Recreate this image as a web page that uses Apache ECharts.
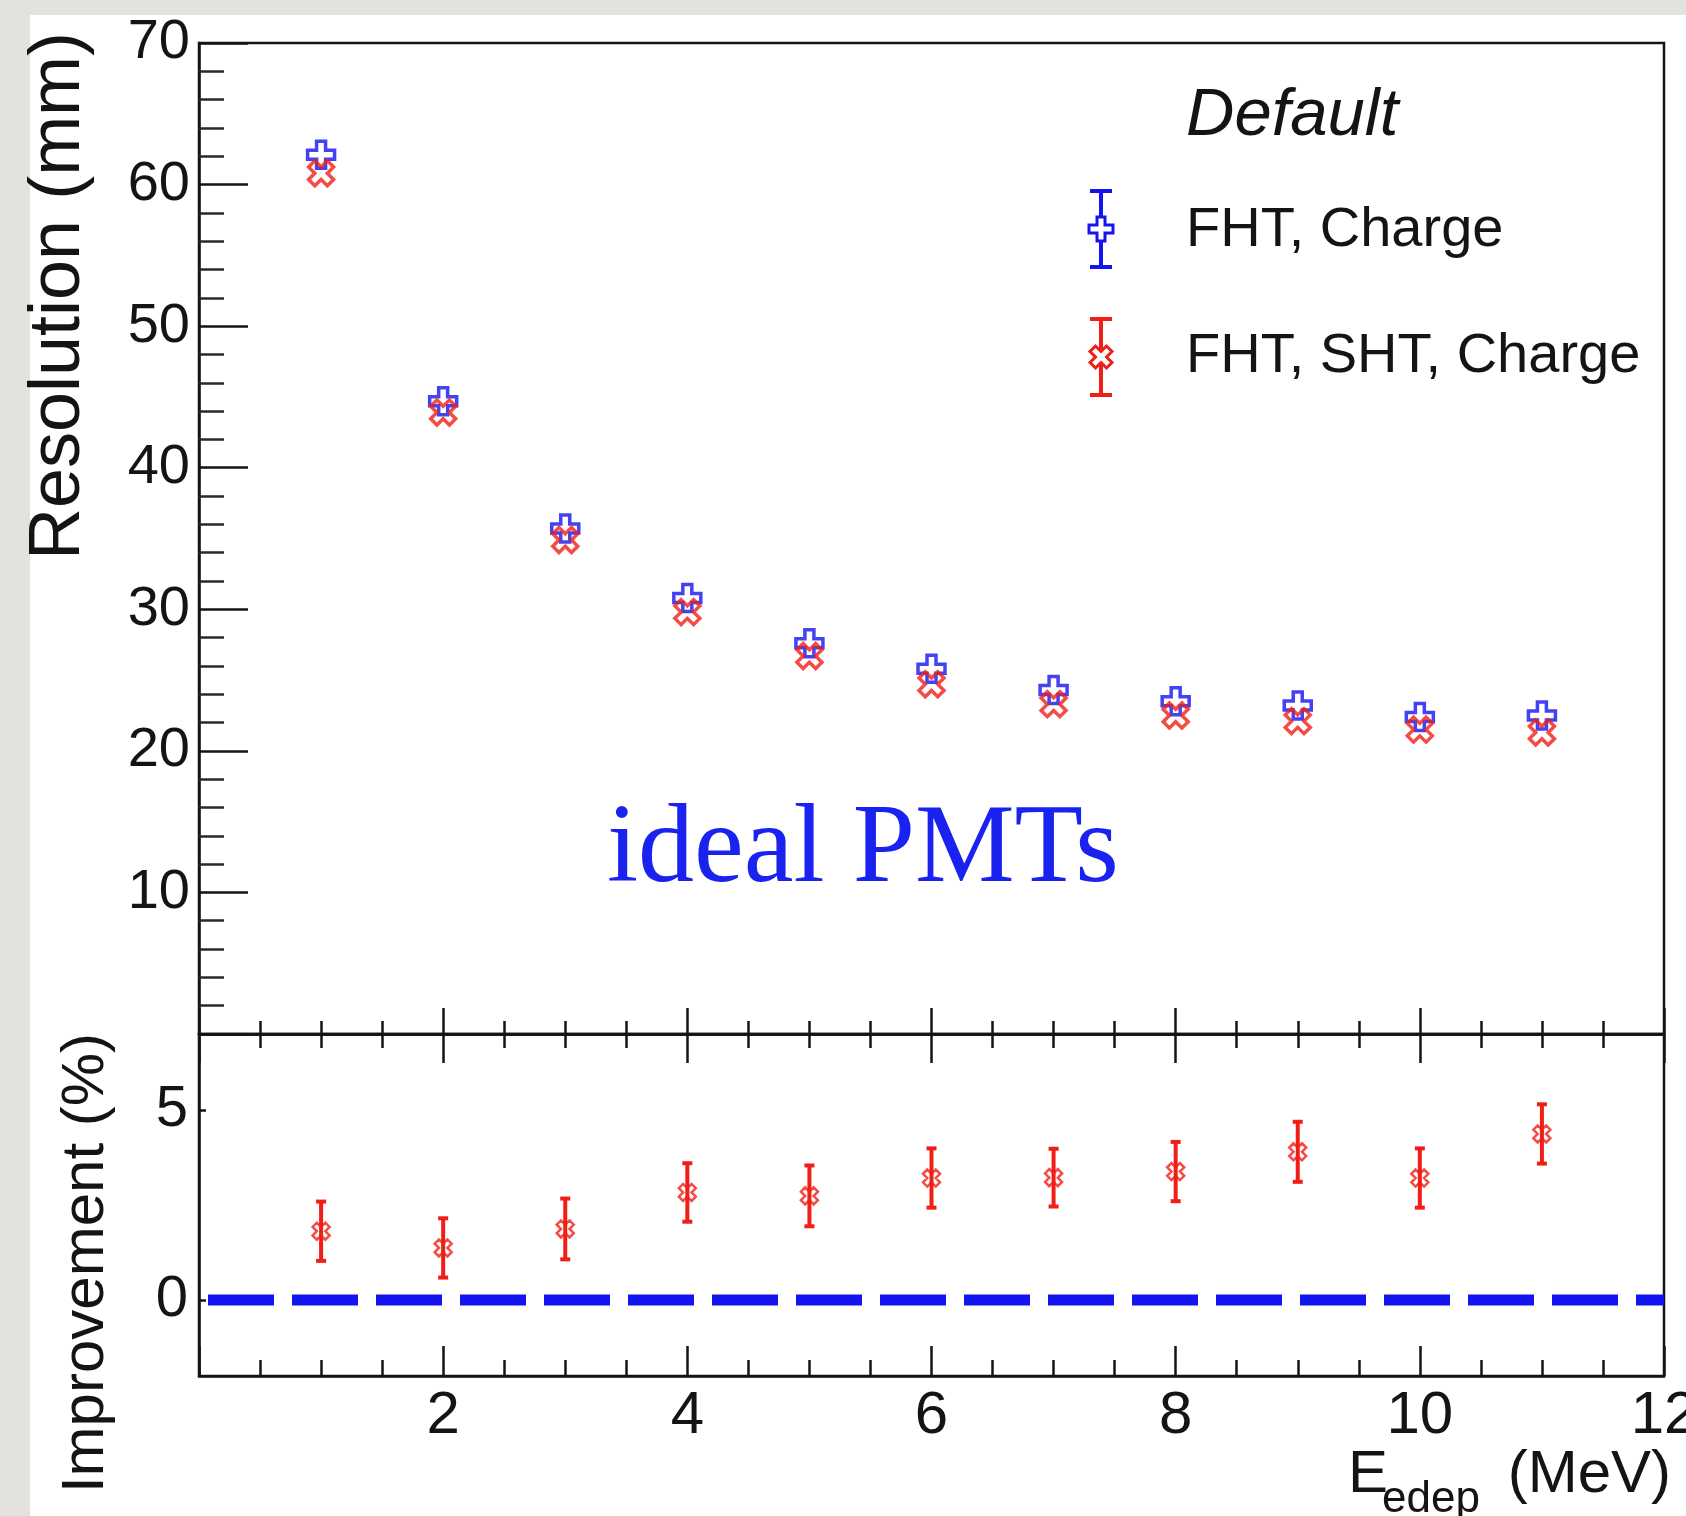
<!DOCTYPE html>
<html>
<head>
<meta charset="utf-8">
<script src="https://cdn.jsdelivr.net/npm/echarts@6/dist/echarts.min.js"></script>
<style>
  html, body { margin: 0; padding: 0; background: #e4e2de; }
  #chart { width: 1686px; height: 1516px; }
</style>
</head>
<body>
<div id="chart"></div>
<script>
// Deposited energy bins (MeV)
const energy = [1, 2, 3, 4, 5, 6, 7, 8, 9, 10, 11];
// Vertex resolution (mm) for the two reconstruction configurations
const resFhtCharge    = [62.1, 44.7, 35.7, 30.8, 27.6, 25.8, 24.3, 23.5, 23.2, 22.4, 22.5];
const resFhtShtCharge = [60.8, 43.9, 34.9, 29.8, 26.7, 24.7, 23.3, 22.5, 22.1, 21.5, 21.3];
// Relative improvement (%) of FHT+SHT+Charge over FHT+Charge, with uncertainties
const improvement    = [1.81, 1.37, 1.87, 2.83, 2.74, 3.21, 3.22, 3.38, 3.90, 3.21, 4.37];
const improvementErr = [0.78, 0.78, 0.80, 0.77, 0.80, 0.78, 0.76, 0.78, 0.79, 0.78, 0.78];
// Reference line at zero improvement
const zeroLineX = [0, 12];
const zeroLineY = [0, 0];
// Tick labels
const energyLabels = [2, 4, 6, 8, 10, 12];
const resolutionLabels = [10, 20, 30, 40, 50, 60, 70];
const improvementLabels = [0, 5];

const BLUE = '#1414f0';
const RED = '#f01e16';
const INK = '#141414';
const SANS = '"Liberation Sans", Arial, Helvetica, sans-serif';

// ROOT-style marker outlines: open cross and open "four diamonds X"
const OPEN_CROSS = 'path://M1,0L2,0L2,1L3,1L3,2L2,2L2,3L1,3L1,2L0,2L0,1L1,1Z';
const OPEN_X = 'path://M0,1L1,2L2,1L1,0L2,-1L1,-2L0,-1L-1,-2L-2,-1L-1,0L-2,1L-1,2Z';

function crossPoints(s) {
  const h = s / 2, a = s / 6;
  return [[-a,-h],[a,-h],[a,-a],[h,-a],[h,a],[a,a],[a,h],[-a,h],[-a,a],[-h,a],[-h,-a],[-a,-a]];
}
function xPoints(s) {
  const q = s / 4;
  return [[0,q],[q,2*q],[2*q,q],[q,0],[2*q,-q],[q,-2*q],[0,-q],[-q,-2*q],[-2*q,-q],[-q,0],[-2*q,q],[-q,2*q]];
}
function legendSymbol(cx, cy, color, pts) {
  const st = { stroke: color, lineWidth: 4 };
  const hb = 38, cap = 11;
  return {
    type: 'group', x: cx, y: cy, z: 50,
    children: [
      { type: 'line', shape: { x1: 0, y1: -hb, x2: 0, y2: hb }, style: st },
      { type: 'line', shape: { x1: -cap, y1: -hb, x2: cap, y2: -hb }, style: st },
      { type: 'line', shape: { x1: -cap, y1: hb, x2: cap, y2: hb }, style: st },
      { type: 'polygon', shape: { points: pts }, style: { fill: '#fff', stroke: color, lineWidth: 3 } }
    ]
  };
}

const chart = echarts.init(document.getElementById('chart'), null, { renderer: 'canvas' });

const axisLineStyle = { show: true, onZero: false, lineStyle: { color: INK, width: 2.5 } };

const option = {
  animation: false,
  backgroundColor: '#e4e2de',
  grid: [
    { left: 199, right: 22, top: 43, height: 991, show: true, borderColor: INK, borderWidth: 2.5, backgroundColor: 'transparent', containLabel: false, outerBoundsMode: 'none' },
    { left: 199, right: 22, top: 1034, height: 342, show: true, borderColor: INK, borderWidth: 2.5, backgroundColor: 'transparent', containLabel: false, outerBoundsMode: 'none' }
  ],
  xAxis: [
    {
      type: 'value', gridIndex: 0, min: 0, max: 12, interval: 2, position: 'bottom',
      axisLine: axisLineStyle,
      axisTick: { show: true, inside: true, length: 26, lineStyle: { color: INK, width: 2.5 } },
      minorTick: { show: true, splitNumber: 4, length: 13, lineStyle: { color: INK, width: 2.5 } },
      axisLabel: { show: false },
      splitLine: { show: false }
    },
    {
      type: 'value', gridIndex: 1, min: 0, max: 12, interval: 2, position: 'bottom',
      axisLine: axisLineStyle,
      axisTick: { show: true, inside: true, length: 30, lineStyle: { color: INK, width: 2.5 } },
      minorTick: { show: true, splitNumber: 4, length: 16, lineStyle: { color: INK, width: 2.5 } },
      axisLabel: {
        show: true, customValues: energyLabels, showMaxLabel: true, hideOverlap: false,
        margin: 10, fontSize: 60, fontFamily: SANS, color: INK
      },
      splitLine: { show: false }
    },
    {
      type: 'value', gridIndex: 1, min: 0, max: 12, interval: 2, position: 'top',
      axisLine: axisLineStyle,
      axisTick: { show: true, inside: true, length: 29, lineStyle: { color: INK, width: 2.5 } },
      minorTick: { show: true, splitNumber: 4, length: 14, lineStyle: { color: INK, width: 2.5 } },
      axisLabel: { show: false },
      splitLine: { show: false }
    }
  ],
  yAxis: [
    {
      type: 'value', gridIndex: 0, min: 0, max: 70, interval: 10, position: 'left',
      axisLine: axisLineStyle,
      axisTick: { show: true, inside: true, length: 49, lineStyle: { color: INK, width: 2.5 } },
      minorTick: { show: true, splitNumber: 5, length: 25, lineStyle: { color: '#2a2a2a', width: 2.5 } },
      axisLabel: {
        show: true, customValues: resolutionLabels, showMaxLabel: true, hideOverlap: false,
        margin: 9, fontSize: 56, fontFamily: SANS, color: INK
      },
      splitLine: { show: false }
    },
    {
      type: 'value', gridIndex: 1, min: -2, max: 7, position: 'left',
      axisLine: axisLineStyle,
      axisTick: { show: true, inside: true, length: 7, customValues: improvementLabels, lineStyle: { color: INK, width: 2.5 } },
      axisLabel: {
        show: true, customValues: improvementLabels, hideOverlap: false,
        margin: 11, fontSize: 58, fontFamily: SANS, color: INK
      },
      splitLine: { show: false }
    }
  ],
  series: [
    {
      name: 'FHT, Charge', type: 'scatter', xAxisIndex: 0, yAxisIndex: 0, silent: true, z: 3,
      data: energy.map((e, i) => [e, resFhtCharge[i]]),
      symbol: OPEN_CROSS, symbolSize: 27,
      itemStyle: { color: 'rgba(255,255,255,0)', borderColor: BLUE, borderWidth: 3.5 }
    },
    {
      name: 'FHT, SHT, Charge', type: 'scatter', xAxisIndex: 0, yAxisIndex: 0, silent: true, z: 4,
      data: energy.map((e, i) => [e, resFhtShtCharge[i]]),
      symbol: OPEN_X, symbolSize: 25,
      itemStyle: { color: 'rgba(255,255,255,0)', borderColor: RED, borderWidth: 3.5 }
    },
    {
      name: 'zero', type: 'line', xAxisIndex: 1, yAxisIndex: 1, silent: true, z: 2,
      data: zeroLineX.map((x, i) => [x, zeroLineY[i]]),
      symbol: 'none', clip: true,
      lineStyle: { color: BLUE, width: 11, type: [66, 18], dashOffset: 75, cap: 'butt' }
    },
    {
      name: 'improvement-err', type: 'custom', xAxisIndex: 1, yAxisIndex: 1, silent: true, z: 5,
      data: energy.map((e, i) => [e, improvement[i], improvementErr[i]]),
      encode: { x: 0, y: 1 },
      renderItem: function (params, api) {
        const x = api.value(0), y = api.value(1), err = api.value(2);
        const hi = api.coord([x, y + err]);
        const lo = api.coord([x, y - err]);
        const cap = 5;
        const st = { stroke: RED, lineWidth: 4 };
        return {
          type: 'group',
          children: [
            { type: 'line', shape: { x1: hi[0], y1: hi[1], x2: lo[0], y2: lo[1] }, style: st },
            { type: 'line', shape: { x1: hi[0] - cap, y1: hi[1], x2: hi[0] + cap, y2: hi[1] }, style: st },
            { type: 'line', shape: { x1: lo[0] - cap, y1: lo[1], x2: lo[0] + cap, y2: lo[1] }, style: st }
          ]
        };
      }
    },
    {
      name: 'improvement', type: 'scatter', xAxisIndex: 1, yAxisIndex: 1, silent: true, z: 6,
      data: energy.map((e, i) => [e, improvement[i]]),
      symbol: OPEN_X, symbolSize: 17,
      itemStyle: { color: 'rgba(255,255,255,0)', borderColor: RED, borderWidth: 2.5 }
    }
  ],
  graphic: [
    { type: 'rect', z: -10, shape: { x: 30, y: 15, width: 1656, height: 1501 }, style: { fill: '#ffffff' } },
    {
      type: 'text', z: 50, x: 1186, y: 116,
      style: { text: 'Default', fontSize: 67, fontStyle: 'italic', fontFamily: SANS, fill: INK, align: 'left', verticalAlign: 'middle' }
    },
    legendSymbol(1101, 229, BLUE, crossPoints(24)),
    legendSymbol(1101, 357, RED, xPoints(22)),
    {
      type: 'text', z: 50, x: 1186, y: 231,
      style: { text: 'FHT, Charge', fontSize: 56, fontFamily: SANS, fill: INK, align: 'left', verticalAlign: 'middle' }
    },
    {
      type: 'text', z: 50, x: 1186, y: 357,
      style: { text: 'FHT, SHT, Charge', fontSize: 56, fontFamily: SANS, fill: INK, align: 'left', verticalAlign: 'middle' }
    },
    {
      type: 'text', z: 50, x: 607, y: 852,
      style: { text: 'ideal PMTs', fontSize: 112, fontFamily: '"Liberation Serif", "Times New Roman", serif', fill: '#1a22f0', align: 'left', verticalAlign: 'middle' }
    },
    {
      type: 'text', z: 50, x: 59, y: 296, rotation: Math.PI / 2,
      style: { text: 'Resolution (mm)', fontSize: 72, fontFamily: SANS, fill: INK, align: 'center', verticalAlign: 'middle' }
    },
    {
      type: 'text', z: 50, x: 86, y: 1263, rotation: Math.PI / 2,
      style: { text: 'Improvement (%)', fontSize: 60, fontFamily: SANS, fill: INK, align: 'center', verticalAlign: 'middle' }
    },
    {
      type: 'text', z: 50, x: 1348, y: 1475,
      style: { text: 'E', fontSize: 60, fontFamily: SANS, fill: INK, align: 'left', verticalAlign: 'middle' }
    },
    {
      type: 'text', z: 50, x: 1382, y: 1500,
      style: { text: 'edep', fontSize: 44, fontFamily: SANS, fill: INK, align: 'left', verticalAlign: 'middle' }
    },
    {
      type: 'text', z: 50, x: 1671, y: 1475,
      style: { text: '(MeV)', fontSize: 60, fontFamily: SANS, fill: INK, align: 'right', verticalAlign: 'middle' }
    }
  ]
};

chart.setOption(option);
</script>
</body>
</html>
